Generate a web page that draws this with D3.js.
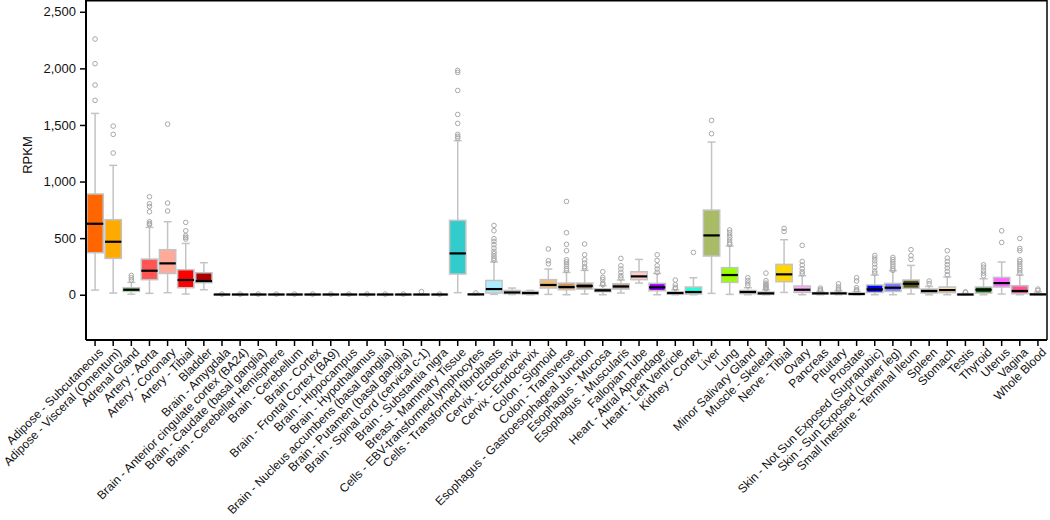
<!DOCTYPE html>
<html>
<head>
<meta charset="utf-8">
<script src="https://cdn.jsdelivr.net/npm/d3@7"></script>
<style>
  html, body { margin: 0; padding: 0; background: #fff; }
  svg { display: block; font-family: "Liberation Sans", Arial, sans-serif; }
</style>
</head>
<body>
<svg id="chart" width="1050" height="520"></svg>
<script>
const tissues = [
  "Adipose - Subcutaneous","Adipose - Visceral (Omentum)","Adrenal Gland","Artery - Aorta","Artery - Coronary","Artery - Tibial","Bladder",
  "Brain - Amygdala","Brain - Anterior cingulate cortex (BA24)","Brain - Caudate (basal ganglia)","Brain - Cerebellar Hemisphere","Brain - Cerebellum","Brain - Cortex","Brain - Frontal Cortex (BA9)","Brain - Hippocampus","Brain - Hypothalamus","Brain - Nucleus accumbens (basal ganglia)","Brain - Putamen (basal ganglia)","Brain - Spinal cord (cervical c-1)","Brain - Substantia nigra",
  "Breast - Mammary Tissue","Cells - EBV-transformed lymphocytes","Cells - Transformed fibroblasts","Cervix - Ectocervix","Cervix - Endocervix","Colon - Sigmoid","Colon - Transverse","Esophagus - Gastroesophageal Junction","Esophagus - Mucosa","Esophagus - Muscularis","Fallopian Tube","Heart - Atrial Appendage","Heart - Left Ventricle","Kidney - Cortex","Liver","Lung","Minor Salivary Gland","Muscle - Skeletal","Nerve - Tibial","Ovary","Pancreas","Pituitary","Prostate","Skin - Not Sun Exposed (Suprapubic)","Skin - Sun Exposed (Lower leg)","Small Intestine - Terminal Ileum","Spleen","Stomach","Testis","Thyroid","Uterus","Vagina","Whole Blood"
];

const colors = [
  "#FF6600","#FFAA00","#33DD33","#FF5555","#FFAA99","#FF0000","#AA0000",
  "#EEEE00","#EEEE00","#EEEE00","#EEEE00","#EEEE00","#EEEE00","#EEEE00","#EEEE00","#EEEE00","#EEEE00","#EEEE00","#EEEE00","#EEEE00",
  "#33CCCC","#CC66FF","#AAEEFF","#FFCCCC","#CCAADD","#EEBB77","#CC9955","#8B7355","#552200","#BB9988","#FFCCCC","#9900FF","#660099","#22FFDD","#AABB66","#99FF00","#99BB88","#AAAAFF","#FFD700","#FFAAFF","#995522","#AAFF99","#DDDDDD","#0000FF","#7777FF","#555522","#778855","#FFDD99","#AAAAAA","#006600","#FF66FF","#FF5599","#FF00BB"
];

const whiskerLow = [41,15,5,12,18,6,44, 0,0,0,0,0,0,0,0,0,0,0,0,0, 18,0,3,2,0,3,0,6,0,15,103,0,0,0,12,3,0,0,20,0,0,0,0,0,0,6,0,0,0,0,6,0,0];
const q1 =         [371,321,29,133,188,62,106, 0,0,0,0,0,0,0,0,0,0,0,0,0, 183,1,15,9,3,59,44,50,27,50,133,35,6,6,342,109,9,3,115,20,6,6,3,20,29,56,15,18,0,15,68,9,0];
const median =     [627,468,44,212,277,130,121, 2,2,2,2,2,2,2,2,2,2,2,2,2, 365,3,50,20,15,86,68,77,38,73,162,65,15,24,524,174,24,12,180,44,12,12,6,47,62,97,33,41,2,44,103,33,3];
const q3 =         [890,663,62,315,398,221,194, 3,3,3,3,3,3,3,3,3,3,3,3,3, 657,6,126,38,29,133,103,103,53,97,203,100,24,68,748,239,38,24,268,77,18,20,15,86,100,130,50,68,5,68,153,80,9];
const whiskerHigh= [1602,1143,109,595,645,453,283, 5,5,5,5,5,5,5,5,5,5,5,5,5, 1361,12,289,59,38,227,197,215,80,130,312,188,44,150,1349,430,62,44,486,168,29,35,27,174,212,259,73,156,12,141,289,174,24];
const outliers = [
  [2259,2041,1853,1717],[1490,1417,1252],[170,150,130],[866,804,780,733,645,630,620],[1507,810,740],[639,565,521,506,492],[],
  [6],[6],[6],[6],[6],[6],[6],[6],[6],[6],[6],[28],[6],
  [1982,1964,1805,1593,1514,1417,1399,1384],[16],[612,565,495,471,442,412,383,362,340,320,305],[],[],[404,300,274],
  [824,548,445,389,309,290,270,250,230,215],[448,353,309,280,250,235],[203,153,133,103,90],[321,256,227,197,168,148],[],
  [353,303,256,227,197],[130,88,65,55],[374],[1540,1423],[572,550,527,506,483,459,445],[150,126,103,82],
  [191,124,103,90,80,70,60,52],[586,559],[436,294,262,230,203,185],[59,44,36],[97,68,50,42],[150,121,62,44,35],
  [347,324,300,271,241,209,190],[330,310,290,270,250,230,215],[398,345,312],[121,97],[389,324,294,265,236,206,177],
  [20,25],[265,244,215,191,168],[565,462],[497,409,389,309,292,271,250,230,212,191],[50,38]
];
const yTicks = [0,500,1000,1500,2000,2500];
const yLabel = "RPKM";

const svg = d3.select("#chart");
const mLeft = 86, mRight = 1047, mTop = 0, mBottom = 340;

const x = d3.scaleBand().domain(tissues).range([mLeft, mRight]).paddingInner(0).paddingOuter(0);
const y = d3.scaleLinear().domain([-400, 2604]).range([mBottom, mTop]);

const bw = x.bandwidth() * 0.9;
const capW = 8;
const grey = "#c3c3c3";

const data = tissues.map((t, i) => ({
  t, c: colors[i], lo: whiskerLow[i], q1: q1[i], med: median[i], q3: q3[i], hi: whiskerHigh[i], out: outliers[i]
}));

const g = svg.append("g");
const boxes = g.selectAll("g.box").data(data).join("g").attr("class", "box")
  .attr("transform", d => `translate(${x(d.t) + x.bandwidth() / 2},0)`);

boxes.append("line").attr("x1", 0).attr("x2", 0)
  .attr("y1", d => y(d.hi)).attr("y2", d => y(d.q3))
  .attr("stroke", grey).attr("stroke-width", 1.5);
boxes.append("line").attr("x1", 0).attr("x2", 0)
  .attr("y1", d => y(d.q1)).attr("y2", d => y(d.lo))
  .attr("stroke", grey).attr("stroke-width", 1.5);
boxes.append("line").attr("x1", -capW / 2).attr("x2", capW / 2)
  .attr("y1", d => y(d.hi)).attr("y2", d => y(d.hi))
  .attr("stroke", grey).attr("stroke-width", 1.5);
boxes.append("line").attr("x1", -capW / 2).attr("x2", capW / 2)
  .attr("y1", d => y(d.lo)).attr("y2", d => y(d.lo))
  .attr("stroke", grey).attr("stroke-width", 1.5);

boxes.selectAll("circle").data(d => d.out).join("circle")
  .attr("cx", 0).attr("cy", v => y(v)).attr("r", 2.3)
  .attr("fill", "none").attr("stroke", "#a8a8a8").attr("stroke-width", 1);

boxes.append("rect")
  .attr("x", -bw / 2).attr("width", bw)
  .attr("y", d => y(d.q3)).attr("height", d => Math.max(0, y(d.q1) - y(d.q3)))
  .attr("fill", d => d.c).attr("stroke", grey).attr("stroke-width", 1.5);

boxes.append("line").attr("x1", -bw / 2).attr("x2", bw / 2)
  .attr("y1", d => y(d.med)).attr("y2", d => y(d.med))
  .attr("stroke", "#000").attr("stroke-width", 2.2);

svg.append("line").attr("x1", mLeft).attr("x2", mRight).attr("y1", mTop + 0.75).attr("y2", mTop + 0.75)
  .attr("stroke", "#000").attr("stroke-width", 1.5);
svg.append("line").attr("x1", mRight).attr("x2", mRight).attr("y1", mTop).attr("y2", mBottom)
  .attr("stroke", "#000").attr("stroke-width", 1.5);

const yAxis = svg.append("g").attr("transform", `translate(${mLeft},0)`)
  .call(d3.axisLeft(y).tickValues(yTicks).tickFormat(d3.format(",")).tickSize(6).tickPadding(4));
yAxis.select(".domain").attr("stroke-width", 2).attr("d", `M0,${mTop}V${mBottom}`);
yAxis.selectAll(".tick line").attr("stroke-width", 1.5);
yAxis.selectAll("text").attr("font-size", 13).attr("fill", "#111");

const xAxis = svg.append("g").attr("transform", `translate(0,${mBottom})`)
  .call(d3.axisBottom(x).tickSize(6).tickSizeOuter(0));
xAxis.select(".domain").attr("stroke-width", 2).attr("d", `M${mLeft},0H${mRight}`);
xAxis.selectAll(".tick line").attr("stroke-width", 1.5);
xAxis.selectAll("text")
  .attr("font-size", 12).attr("fill", "#111")
  .attr("text-anchor", "end")
  .attr("x", 0).attr("y", 0).attr("dy", "0.35em")
  .attr("transform", "translate(6,10) rotate(-45)");

svg.append("text").attr("transform", "translate(32,155) rotate(-90)")
  .attr("text-anchor", "middle").attr("font-size", 13).attr("fill", "#111").text(yLabel);
</script>
</body>
</html>
